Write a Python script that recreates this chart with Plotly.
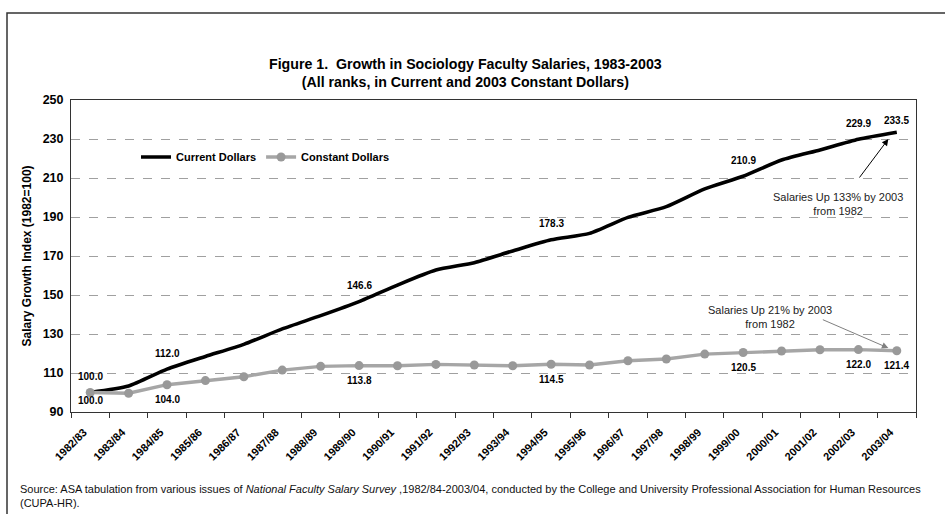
import plotly.graph_objects as go

years = ["1982/83", "1983/84", "1984/85", "1985/86", "1986/87", "1987/88", "1988/89",
         "1989/90", "1990/91", "1991/92", "1992/93", "1993/94", "1994/95", "1995/96",
         "1996/97", "1997/98", "1998/99", "1999/00", "2000/01", "2001/02", "2002/03", "2003/04"]

current_dollars = [100.0, 103.3, 112.0, 118.5, 124.7, 132.6, 139.4, 146.6, 155.1, 162.8,
                   166.6, 172.6, 178.3, 181.6, 189.8, 195.3, 204.4, 210.9, 219.2, 224.4,
                   229.9, 233.5]

constant_dollars = [100.0, 99.6, 104.0, 106.1, 108.1, 111.5, 113.4, 113.8, 113.7, 114.4,
                    114.1, 113.7, 114.5, 114.1, 116.3, 117.2, 119.7, 120.5, 121.3, 121.9,
                    122.0, 121.4]

current_labelled = [0, 2, 7, 12, 17, 20, 21]
constant_labelled = [0, 2, 7, 12, 17, 20, 21]

FONT = "Liberation Sans, Arial, sans-serif"
BLACK = "#000000"
GRAY_LINE = "#a6a6a6"
GRAY_MARK = "#999999"

fig = go.Figure()
fig.add_trace(go.Scatter(
    x=years, y=current_dollars, name="Current Dollars", mode="lines",
    line=dict(color=BLACK, width=3.6, shape="spline", smoothing=0.6),
))
fig.add_trace(go.Scatter(
    x=years, y=constant_dollars, name="Constant Dollars", mode="lines+markers",
    line=dict(color=GRAY_LINE, width=3.4),
    marker=dict(color=GRAY_MARK, size=9, line=dict(width=0)),
))

LABEL_FONT = dict(family=FONT, size=10, color=BLACK, weight="bold")
annotations = []
for i in current_labelled:
    shift = 12 if i == len(years) - 1 else 16
    annotations.append(dict(x=years[i], y=current_dollars[i], xref="x", yref="y",
                            text=f"{current_dollars[i]:.1f}", showarrow=False, yshift=shift,
                            font=LABEL_FONT))
for i in constant_labelled:
    shift = -8 if i == 0 else -15
    annotations.append(dict(x=years[i], y=constant_dollars[i], xref="x", yref="y",
                            text=f"{constant_dollars[i]:.1f}", showarrow=False, yshift=shift,
                            font=LABEL_FONT))

# callout texts
annotations.append(dict(x=19.48, y=196.7, xref="x", yref="y",
                        text="Salaries Up 133% by 2003<br>from 1982", showarrow=False,
                        font=dict(family=FONT, size=11, color="#222222")))
annotations.append(dict(x=17.71, y=138.7, xref="x", yref="y",
                        text="Salaries Up 21% by 2003<br>from 1982", showarrow=False,
                        font=dict(family=FONT, size=11, color="#222222")))
# arrows
annotations.append(dict(x=20.78, y=230.0, xref="x", yref="y", text="", showarrow=True,
                        ax=-30, ay=40, arrowhead=2, arrowsize=1.3, arrowwidth=1,
                        arrowcolor=BLACK, standoff=0, startstandoff=0))
annotations.append(dict(x=20.78, y=122.8, xref="x", yref="y", text="", showarrow=True,
                        ax=-67, ay=-29, arrowhead=2, arrowsize=1.3, arrowwidth=1,
                        arrowcolor="#808080", standoff=0, startstandoff=0))

# title
annotations.append(dict(x=(465 - 71) / 845, y=(412 - 72.5) / 312, xref="paper", yref="paper",
                        yanchor="middle",
                        text="Figure 1.  Growth in Sociology Faculty Salaries, 1983-2003<br>"
                             "(All ranks, in Current and 2003 Constant Dollars)",
                        showarrow=False,
                        font=dict(family=FONT, size=14.2, color=BLACK, weight="bold")))

tick_text = [y + "\u00a0\u00a0\u00a0" for y in years]

fig.update_layout(
    width=945, height=514,
    margin=dict(l=71, r=29, t=100, b=102),
    paper_bgcolor="white", plot_bgcolor="white",
    font=dict(family=FONT, color=BLACK),
    showlegend=True,
    legend=dict(orientation="h", x=(136 - 71) / 845, y=(412 - 157) / 312,
                xanchor="left", yanchor="middle",
                bgcolor="rgba(0,0,0,0)", font=dict(family=FONT, size=11, color=BLACK, weight="bold"),
                itemwidth=30, tracegroupgap=0),
    xaxis=dict(type="category", range=[-0.5, len(years) - 0.5], autorange=False,
               tickmode="array", tickvals=years, ticktext=tick_text,
               tickangle=-45, tickson="boundaries", ticks="outside",
               ticklen=5, tickcolor="#333333", showline=True, linecolor="#333333",
               linewidth=1, mirror=True, showgrid=False, automargin=False,
               ticklabelstandoff=2,
               tickfont=dict(family=FONT, size=11, color=BLACK, weight="bold")),
    yaxis=dict(range=[90, 250], autorange=False, dtick=20, tick0=90, showline=True,
               linecolor="#333333",
               linewidth=1, mirror=True, showgrid=True, gridcolor="#a0a0a0",
               griddash="dash", gridwidth=1, zeroline=False, ticks="", automargin=False,
               ticklabelstandoff=4,
               tickfont=dict(family=FONT, size=12.5, color=BLACK, weight="bold"),
               title=dict(text="Salary Growth Index (1982=100)", standoff=8,
                          font=dict(family=FONT, size=12, color=BLACK, weight="bold"))),
    annotations=annotations,
    shapes=[dict(type="rect", xref="paper", yref="paper",
                 x0=(7 - 71) / 845, x1=(955 - 71) / 845,
                 y0=(412 - 530) / 312, y1=(412 - 13) / 312,
                 line=dict(color="#333333", width=1.5), fillcolor="rgba(0,0,0,0)",
                 layer="below")],
)

fig.add_annotation(
    x=(18 - 71) / 845, y=(412 - 481) / 312, xref="paper", yref="paper",
    xanchor="left", yanchor="top", align="left", showarrow=False,
    text="Source: ASA tabulation from various issues of <i>National Faculty Salary Survey</i> ,"
         "1982/84-2003/04, conducted by the College and University Professional Association "
         "for Human Resources<br>(CUPA-HR).",
    font=dict(family=FONT, size=11, color="#111111"),
)

fig.write_html("out.html")
